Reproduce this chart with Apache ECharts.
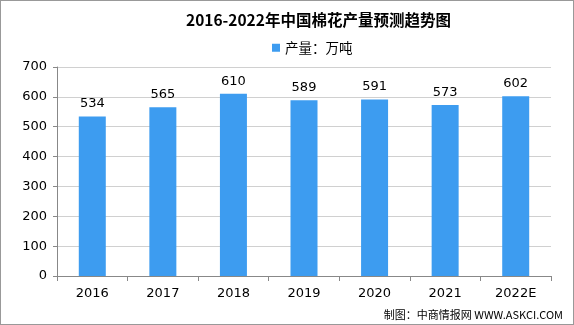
<!DOCTYPE html>
<html><head><meta charset="utf-8">
<script src="https://cdn.jsdelivr.net/npm/echarts@6/dist/echarts.min.js"></script>
<style>html,body{margin:0;padding:0;background:#fff}#c{width:572px;height:323px;border:1px solid #999}</style>
</head><body><div id="c"></div>
<script>
const categories = ['2016','2017','2018','2019','2020','2021','2022E'];
const values = [534,565,610,589,591,573,602];
const yTicks = {min:0,max:700,interval:100};
const chart = echarts.init(document.getElementById('c'));
chart.setOption({
  animation:false,
  title:{text:'2016-2022年中国棉花产量预测趋势图',left:180,top:6,
    textStyle:{fontSize:15.5,fontWeight:'bold',color:'#000',fontFamily:'"Noto Sans CJK SC", serif'}},
  legend:{top:35,left:266,itemWidth:8,itemHeight:8,icon:'rect',itemGap:4,
    textStyle:{fontSize:13.5,color:'#000',fontFamily:'"Noto Sans CJK SC", sans-serif'}},
  grid:{left:56,right:22,top:66,bottom:48},
  xAxis:{type:'category',data:categories,
    axisLine:{lineStyle:{color:'#888'}},
    axisTick:{show:true,lineStyle:{color:'#888'},length:5},
    axisLabel:{color:'#000',fontSize:13,margin:11,fontFamily:'"DejaVu Sans", sans-serif'}},
  yAxis:{type:'value',min:yTicks.min,max:yTicks.max,interval:yTicks.interval,
    axisLine:{show:true,lineStyle:{color:'#888'}},
    axisTick:{show:true,lineStyle:{color:'#888'},length:4},
    splitLine:{lineStyle:{color:'#d0d0d0'}},
    axisLabel:{color:'#000',fontSize:13,margin:10,fontFamily:'"DejaVu Sans", sans-serif'}},
  graphic:[{type:'text',right:10,bottom:4,style:{text:'制图：中商情报网 WWW.ASKCI.COM',fontSize:11,fill:'#000',fontFamily:'"Noto Sans CJK SC", sans-serif'}}],
  series:[{name:'产量：万吨',type:'bar',data:values,barWidth:27,
    itemStyle:{color:'#3d9cf0'},
    label:{show:true,position:'top',color:'#000',fontSize:13,distance:6,fontFamily:'"DejaVu Sans", sans-serif'}}]
});
</script></body></html>
